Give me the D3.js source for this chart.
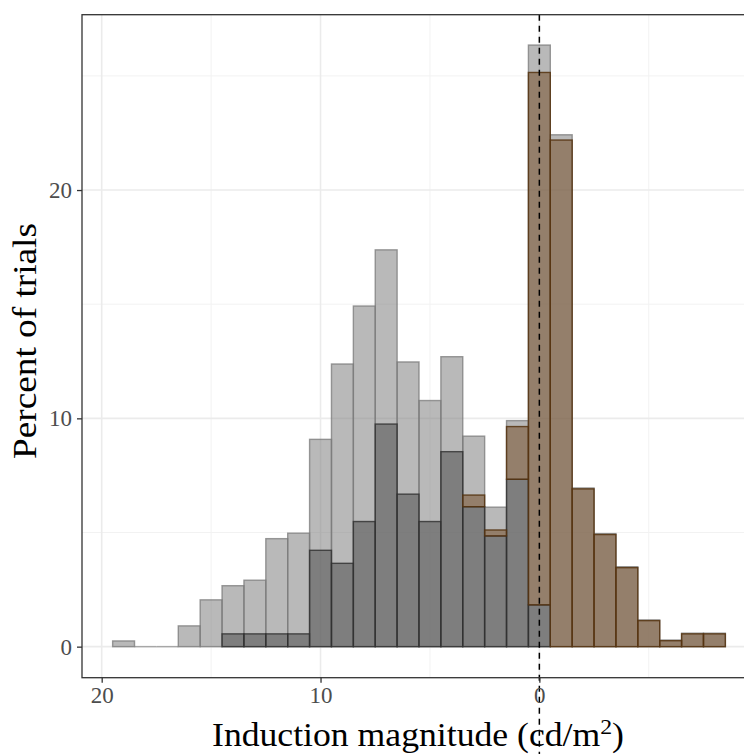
<!DOCTYPE html>
<html>
<head>
<meta charset="utf-8">
<script src="https://cdn.jsdelivr.net/npm/d3@7"></script>
<style>
  html, body { margin: 0; padding: 0; background: #fff; }
  svg { display: block; }
</style>
</head>
<body>
<svg id="chart" width="744" height="754"></svg>
<script>
// ---- data (bin centres in cd/m², percent of trials) ----
const bins = [19, 18, 17, 16, 15, 14, 13, 12, 11, 10, 9, 8, 7, 6, 5, 4, 3, 2, 1, 0, -1, -2, -3, -4, -5, -6, -7, -8];
const grayPct = [0.25, 0, 0, 0.91, 2.05, 2.67, 2.91, 4.73, 4.97, 9.08, 12.38, 14.92, 17.38, 12.47, 10.78, 12.70, 9.22, 6.11, 9.90, 26.35, 22.42, 6.95, 4.95, 3.50, 1.17, 0.29, 0.59, 0.59];
const darkBins = [14, 13, 12, 11, 10, 9, 8, 7, 6, 5, 4, 3, 2, 1, 0];
const darkPct = [0.56, 0.56, 0.56, 0.56, 4.22, 3.65, 5.48, 9.75, 6.68, 5.48, 8.54, 6.13, 4.85, 7.33, 1.83];
const brownBins = [3, 2, 1, 0, -1, -2, -3, -4, -5, -6, -7, -8];
const brownPct = [0.51, 0.26, 2.31, 23.32, 22.19, 6.91, 4.91, 3.46, 1.14, 0.26, 0.56, 0.56];
const xTicks = [20, 10, 0];
const yTicks = [0, 10, 20];
const xMinor = [15, 5, -5];
const yMinor = [5, 15, 25];
const binWidth = 1;

// ---- layout ----
const svg = d3.select("#chart");
const panel = { left: 82, right: 756, top: 14.7, bottom: 677.7 };
const x = d3.scaleLinear().domain([20.9, -9.9]).range([panel.left, panel.right]);
const y = d3.scaleLinear().domain([-1.36, 27.68]).range([panel.bottom, panel.top]);

svg.append("rect").attr("x", 0).attr("y", 0).attr("width", 744).attr("height", 754).attr("fill", "#fff");
const g = svg.append("g");

// minor grid
g.selectAll(".vminor").data(xMinor).enter().append("line")
  .attr("x1", d => x(d)).attr("x2", d => x(d))
  .attr("y1", panel.top).attr("y2", panel.bottom)
  .attr("stroke", "#f2f2f2").attr("stroke-width", 1);
g.selectAll(".hminor").data(yMinor).enter().append("line")
  .attr("y1", d => y(d)).attr("y2", d => y(d))
  .attr("x1", panel.left).attr("x2", panel.right)
  .attr("stroke", "#f2f2f2").attr("stroke-width", 1);
// major grid
g.selectAll(".vmajor").data(xTicks).enter().append("line")
  .attr("x1", d => x(d)).attr("x2", d => x(d))
  .attr("y1", panel.top).attr("y2", panel.bottom)
  .attr("stroke", "#ebebeb").attr("stroke-width", 1.6);
g.selectAll(".hmajor").data(yTicks).enter().append("line")
  .attr("y1", d => y(d)).attr("y2", d => y(d))
  .attr("x1", panel.left).attr("x2", panel.right)
  .attr("stroke", "#ebebeb").attr("stroke-width", 1.6);

// gray histogram (bottom layer)
const grayData = bins.map((b, i) => ({ b, v: grayPct[i] }));
g.selectAll(".gray").data(grayData.filter(d => d.v > 0)).enter().append("rect")
  .attr("x", d => x(d.b + binWidth / 2))
  .attr("width", d => x(d.b - binWidth / 2) - x(d.b + binWidth / 2))
  .attr("y", d => y(d.v))
  .attr("height", d => y(0) - y(d.v))
  .attr("fill", "#7f7f7f").attr("fill-opacity", 0.55)
  .attr("stroke", "#7a7a7a").attr("stroke-opacity", 0.75).attr("stroke-width", 1.4);
// empty bins drawn as a flat outline on the baseline
g.selectAll(".grayzero").data(grayData.filter(d => d.v === 0)).enter().append("line")
  .attr("x1", d => x(d.b + binWidth / 2))
  .attr("x2", d => x(d.b - binWidth / 2))
  .attr("y1", y(0)).attr("y2", y(0))
  .attr("stroke", "#7a7a7a").attr("stroke-opacity", 0.6).attr("stroke-width", 1.4);

// stacked histogram: dark segment then brown segment
const darkMap = new Map(darkBins.map((b, i) => [b, darkPct[i]]));
const darkData = darkBins.map((b, i) => ({ b, y0: 0, y1: darkPct[i] }));
const brownData = brownBins.map((b, i) => {
  const base = darkMap.get(b) || 0;
  return { b, y0: base, y1: base + brownPct[i] };
});

g.selectAll(".dark").data(darkData).enter().append("rect")
  .attr("x", d => x(d.b + binWidth / 2))
  .attr("width", d => x(d.b - binWidth / 2) - x(d.b + binWidth / 2))
  .attr("y", d => y(d.y1))
  .attr("height", d => y(d.y0) - y(d.y1))
  .attr("fill", "#575757").attr("fill-opacity", 0.6)
  .attr("stroke", "#2e2e2e").attr("stroke-opacity", 0.8).attr("stroke-width", 1.4);

g.selectAll(".brown").data(brownData).enter().append("rect")
  .attr("x", d => x(d.b + binWidth / 2))
  .attr("width", d => x(d.b - binWidth / 2) - x(d.b + binWidth / 2))
  .attr("y", d => y(d.y1))
  .attr("height", d => y(d.y0) - y(d.y1))
  .attr("fill", "#77502c").attr("fill-opacity", 0.55)
  .attr("stroke", "#55330f").attr("stroke-opacity", 0.85).attr("stroke-width", 1.4);

// dashed zero line
g.append("line")
  .attr("x1", x(0)).attr("x2", x(0))
  .attr("y1", panel.top).attr("y2", 754)
  .attr("stroke", "#000").attr("stroke-width", 1.5)
  .attr("stroke-dasharray", "6,5");

// panel border
g.append("rect")
  .attr("x", panel.left).attr("y", panel.top)
  .attr("width", panel.right - panel.left).attr("height", panel.bottom - panel.top)
  .attr("fill", "none").attr("stroke", "#333").attr("stroke-width", 1.3);

// axes
const font = "'Liberation Serif', 'Times New Roman', serif";
const xAxis = d3.axisBottom(x).tickValues(xTicks).tickSize(5).tickPadding(4).tickFormat(d3.format("d"));
const yAxis = d3.axisLeft(y).tickValues(yTicks).tickSize(5).tickPadding(5).tickFormat(d3.format("d"));

const gx = svg.append("g").attr("transform", `translate(0,${panel.bottom})`).call(xAxis);
const gy = svg.append("g").attr("transform", `translate(${panel.left},0)`).call(yAxis);
[gx, gy].forEach(ax => {
  ax.select(".domain").remove();
  ax.selectAll(".tick line").attr("stroke", "#333").attr("stroke-width", 1.3);
  ax.selectAll(".tick text").attr("fill", "#4d4d4d")
    .style("font-family", font).style("font-size", "23px");
});

// axis titles
const xt = svg.append("text")
  .attr("x", 418).attr("y", 746)
  .attr("text-anchor", "middle")
  .attr("textLength", 412).attr("lengthAdjust", "spacingAndGlyphs")
  .style("font-family", font).style("font-size", "33px").attr("fill", "#000");
xt.append("tspan").text("Induction magnitude (cd/m");
xt.append("tspan").attr("dy", -12).style("font-size", "22px").text("2");
xt.append("tspan").attr("dy", 12).text(")");

svg.append("text")
  .attr("transform", `translate(36,341) rotate(-90)`)
  .attr("text-anchor", "middle")
  .attr("textLength", 236).attr("lengthAdjust", "spacingAndGlyphs")
  .style("font-family", font).style("font-size", "33px").attr("fill", "#000")
  .text("Percent of trials");
</script>
</body>
</html>
